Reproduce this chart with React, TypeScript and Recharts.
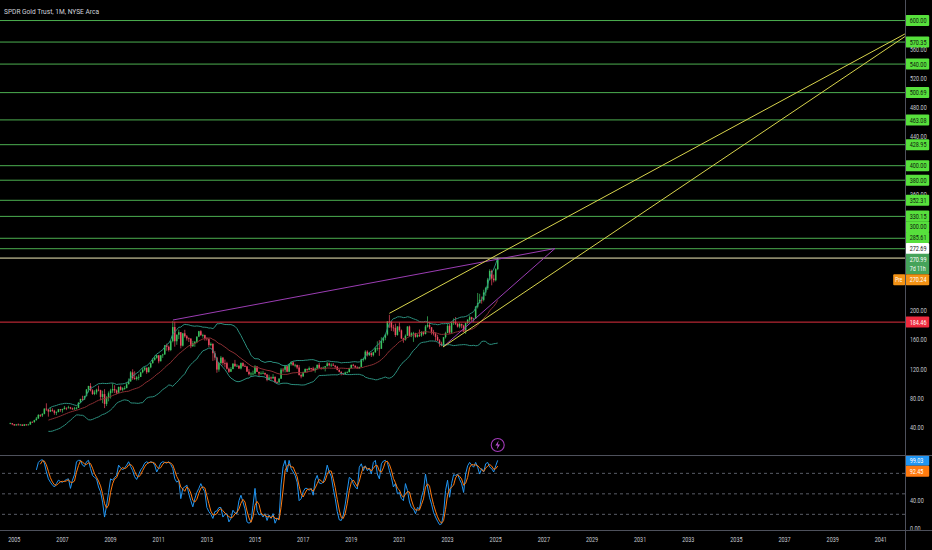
import React from 'react';
import { ComposedChart, Bar, Line, XAxis, YAxis, ReferenceLine, ReferenceDot } from 'recharts';

// ---------- data ----------
const TITLE = 'SPDR Gold Trust, 1M, NYSE Arca';
const FIRST_MONTH_T = 2004 + 10 / 12; // Nov 2004
const FIRST_OPEN = 44.4;

const closes = [
  45.1, 43.8,
  42.2, 43.5, 42.8, 43.4, 41.6, 43.6, 42.8, 43.3, 47.1, 46.8, 49.4, 51.6,
  56.6, 55.9, 58.1, 65.3, 64.3, 61.2, 63.3, 62.4, 59.5, 60.6, 64.4, 63.2,
  64.7, 66.5, 65.9, 67.0, 65.5, 64.3, 65.4, 66.4, 73.5, 78.6, 77.8, 82.5,
  91.7, 96.5, 90.4, 85.4, 87.7, 91.4, 90.6, 81.4, 85.3, 71.7, 80.5, 86.5,
  90.3, 92.3, 90.3, 87.1, 95.0, 91.2, 93.4, 93.6, 98.9, 102.8, 115.3, 107.3,
  106.0, 108.4, 109.0, 115.4, 118.9, 121.7, 115.5, 122.1, 127.9, 132.6, 135.4, 138.7,
  130.5, 138.7, 139.9, 152.4, 150.5, 146.0, 158.3, 177.7, 158.1, 167.0, 170.6, 152.0,
  169.0, 164.9, 162.1, 161.9, 151.3, 155.2, 157.4, 164.5, 171.9, 166.6, 166.6, 162.0,
  161.0, 152.8, 154.5, 141.6, 135.6, 119.1, 128.0, 135.5, 128.2, 127.9, 120.2, 116.1,
  119.7, 127.1, 123.6, 124.3, 120.6, 128.0, 123.9, 123.4, 116.2, 112.7, 113.6, 113.6,
  123.4, 116.0, 113.6, 113.8, 114.5, 112.4, 104.9, 108.3, 106.9, 109.0, 101.9, 101.5,
  106.6, 119.0, 118.8, 123.7, 116.1, 126.5, 129.0, 125.3, 125.6, 121.9, 111.5, 109.6,
  115.4, 119.8, 118.7, 121.1, 120.6, 118.0, 120.5, 125.6, 121.6, 120.7, 121.8, 123.7,
  127.6, 125.0, 125.8, 124.6, 122.9, 118.7, 116.0, 113.6, 112.8, 115.1, 115.5, 121.3,
  125.6, 124.5, 122.0, 121.0, 122.7, 133.2, 133.6, 143.8, 138.9, 141.8, 138.9, 142.9,
  148.4, 148.4, 147.8, 158.8, 162.9, 167.4, 185.4, 184.8, 177.1, 176.5, 166.7, 178.4,
  173.1, 162.0, 160.0, 165.7, 178.4, 165.6, 169.0, 169.0, 164.2, 166.6, 166.1, 171.0,
  168.1, 178.4, 180.6, 177.4, 171.1, 168.5, 164.1, 159.3, 154.7, 151.9, 163.7, 169.6,
  179.4, 170.1, 183.2, 185.0, 182.3, 178.3, 182.0, 179.8, 171.5, 183.1, 187.7, 191.2,
  188.5, 189.3, 205.7, 210.5, 215.3, 215.0, 225.3, 231.3, 243.1, 255.0, 244.4, 242.1,
  257.5, 270.99,
];

const highs = [
  45.9, 45.4,
  43.9, 43.9, 44.8, 43.9, 43.4, 44.1, 43.6, 44.3, 47.4, 47.6, 49.9, 53.8,
  57.6, 57.5, 58.8, 65.6, 72.6, 64.4, 67.1, 65.7, 63.6, 61.5, 64.8, 64.8,
  65.1, 69.0, 66.7, 69.2, 67.7, 66.7, 67.6, 67.8, 74.0, 78.9, 83.0, 83.0,
  92.0, 96.7, 100.4, 91.9, 90.6, 92.7, 96.9, 91.3, 90.0, 92.1, 82.5, 88.9,
  92.6, 100.3, 97.5, 91.7, 95.7, 96.9, 94.8, 96.3, 101.5, 106.8, 117.0, 119.5,
  116.7, 110.3, 112.5, 116.2, 121.4, 122.9, 121.6, 122.9, 128.0, 135.0, 138.4, 139.1,
  139.0, 139.1, 140.9, 153.0, 154.9, 152.2, 159.8, 185.9, 184.9, 167.7, 174.1, 170.6,
  169.7, 173.9, 166.7, 163.3, 161.6, 158.6, 158.4, 164.7, 172.4, 173.4, 168.4, 167.2,
  163.7, 162.3, 156.6, 155.3, 144.8, 136.5, 129.7, 137.9, 136.5, 132.9, 129.8, 121.8,
  122.5, 128.0, 132.4, 126.6, 125.2, 128.9, 129.2, 126.3, 123.6, 119.8, 115.5, 117.6,
  125.2, 123.8, 116.0, 116.6, 117.4, 114.8, 112.6, 111.9, 109.5, 112.8, 109.7, 103.0,
  107.0, 121.1, 121.4, 124.9, 124.5, 126.8, 130.7, 130.5, 127.0, 125.6, 125.2, 113.2,
  116.3, 120.7, 120.5, 123.3, 121.4, 122.9, 121.7, 126.0, 128.3, 122.4, 123.2, 124.0,
  129.5, 128.7, 127.7, 128.1, 125.0, 124.1, 119.5, 116.6, 114.6, 116.2, 116.6, 121.6,
  125.9, 126.9, 124.6, 123.6, 123.0, 134.0, 135.5, 145.7, 145.6, 143.3, 142.9, 143.5,
  149.9, 158.0, 159.7, 163.6, 164.0, 168.1, 185.8, 194.5, 185.9, 180.8, 182.4, 178.9,
  184.0, 174.3, 162.9, 167.5, 178.9, 179.7, 170.4, 171.1, 169.8, 168.3, 174.3, 172.0,
  171.5, 180.5, 192.5, 184.9, 176.2, 173.9, 170.2, 167.0, 161.0, 157.4, 164.0, 171.2,
  182.1, 181.8, 185.4, 189.6, 191.5, 182.9, 183.5, 182.3, 180.9, 184.0, 188.6, 193.8,
  191.9, 190.4, 206.6, 224.6, 223.5, 219.7, 229.1, 233.0, 245.4, 257.3, 256.7, 249.9,
  258.8, 272.7,
];

const lows = [
  44.0, 42.5,
  41.6, 41.8, 42.1, 41.9, 41.3, 41.4, 41.6, 42.5, 43.2, 45.9, 45.8, 48.8,
  51.4, 53.8, 53.8, 57.4, 62.2, 54.2, 60.5, 61.0, 56.8, 56.3, 60.1, 60.9,
  59.8, 64.1, 63.2, 65.5, 64.4, 63.7, 63.9, 64.0, 66.3, 72.5, 76.0, 77.6,
  82.1, 87.6, 89.0, 84.3, 83.8, 84.7, 89.1, 76.7, 72.8, 66.0, 68.8, 75.3,
  79.1, 87.0, 86.8, 85.1, 86.3, 90.1, 89.0, 91.3, 93.2, 98.8, 102.2, 105.0,
  105.0, 104.0, 104.5, 108.8, 114.0, 117.0, 113.2, 115.0, 120.9, 127.4, 131.3, 134.1,
  127.7, 130.5, 135.2, 139.6, 145.0, 143.9, 144.5, 156.6, 150.6, 153.2, 161.1, 148.3,
  150.9, 163.0, 159.0, 157.0, 148.6, 150.3, 150.5, 155.5, 163.8, 165.3, 163.0, 159.0,
  159.0, 150.2, 151.2, 131.0, 131.9, 114.7, 116.1, 126.4, 124.8, 122.0, 119.1, 114.5,
  116.0, 119.8, 123.1, 123.1, 119.8, 119.3, 123.0, 123.0, 116.0, 111.0, 109.0, 111.0,
  112.6, 115.7, 109.7, 112.4, 112.8, 111.0, 103.0, 104.5, 105.0, 106.4, 100.6, 100.2,
  100.8, 106.1, 115.1, 115.1, 115.3, 115.4, 124.5, 124.0, 122.3, 119.7, 111.0, 107.0,
  109.3, 115.2, 115.2, 117.7, 116.2, 117.6, 114.9, 120.2, 121.2, 119.0, 119.4, 116.6,
  123.6, 123.3, 122.7, 124.0, 121.0, 118.0, 115.2, 111.1, 111.6, 111.9, 113.8, 115.3,
  120.5, 123.5, 121.4, 120.5, 119.9, 122.8, 130.1, 132.0, 137.1, 138.0, 136.4, 137.2,
  142.2, 145.1, 138.0, 147.5, 155.8, 159.5, 165.8, 176.6, 172.3, 171.5, 164.1, 165.8,
  171.0, 161.1, 156.1, 158.9, 165.7, 164.6, 163.8, 157.2, 163.0, 163.3, 164.0, 164.2,
  166.0, 167.5, 177.0, 174.7, 167.3, 166.0, 158.7, 158.5, 150.6, 151.2, 151.0, 161.9,
  169.5, 168.3, 168.5, 180.6, 180.4, 177.0, 176.0, 176.0, 171.0, 168.3, 181.7, 184.1,
  185.6, 184.3, 189.4, 203.4, 211.9, 209.9, 213.0, 220.7, 229.0, 241.7, 235.2, 239.2,
  240.6, 256.0,
];

// Stoch RSI %K, monthly, starting Dec 2005
const STOCH_START = 13;
const stochK = [
  85, 96, 99, 100, 95, 82, 72, 67, 63, 60,
  65, 70, 68, 67, 69, 71, 72, 58, 70, 78,
  97, 99, 99, 92, 90, 97, 99, 87, 77, 74,
  72, 60, 53, 38, 16, 33, 52, 72, 70, 74,
  77, 92, 88, 85, 88, 92, 97, 90, 84, 75,
  71, 78, 85, 89, 95, 97, 95, 97, 96, 92,
  82, 88, 95, 97, 96, 95, 97, 93, 87, 72,
  67, 70, 43, 58, 60, 63, 50, 40, 31, 43,
  52, 58, 65, 58, 53, 30, 24, 20, 14, 24,
  25, 30, 30, 16, 20, 21, 9, 14, 26, 22,
  21, 40, 48, 38, 28, 9, 7, 9, 33, 58,
  26, 19, 21, 16, 21, 11, 19, 14, 21, 7,
  14, 14, 63, 90, 99, 82, 99, 87, 82, 77,
  67, 40, 43, 53, 58, 58, 55, 58, 48, 70,
  77, 66, 65, 67, 77, 92, 82, 76, 58, 43,
  24, 12, 11, 19, 35, 55, 74, 72, 65, 60,
  57, 89, 94, 84, 91, 84, 87, 79, 96, 99,
  79, 72, 94, 98, 99, 96, 84, 74, 60, 65,
  50, 52, 43, 40, 65, 55, 38, 30, 28, 21,
  30, 28, 45, 55, 79, 60, 45, 35, 23, 16,
  10, 5, 6, 21, 55, 70, 45, 65, 78, 77,
  79, 71, 65, 52, 79, 91, 96, 92, 89, 96,
  89, 79, 87, 82, 94, 96, 89, 87, 82, 91,
  99.03,
];

const GREEN_LEVELS = [600, 570.35, 540, 500.69, 463.08, 428.95, 400, 380, 352.31, 330.15, 300, 285.61];
const MARK_LEVEL = 272.69;
const SUPPORT_LEVEL = 184.46;
const LAST_PRICE = 270.99;
const PRE_PRICE = 270.24;
const COUNTDOWN = '7d 11h';
const K_LAST = 99.03;
const D_LAST = 92.45;
const STOCH_BANDS = [80, 50, 20];

// price-scale tick labels that are not covered by the right-hand tags
const PRICE_TICKS = [40, 80, 120, 160, 200, 360, 440, 480, 520, 560];
const RSI_TICKS = [0, 40];
const YEAR_TICKS = [2005, 2007, 2009, 2011, 2013, 2015, 2017, 2019, 2021, 2023, 2025, 2027, 2029, 2031, 2033, 2035, 2037, 2039, 2041];

// drawings (data coordinates: [year, price])
const PURPLE_APEX: [number, number] = [2027.46, 285.9];
const LOW_2022: [number, number] = [2022.81, 150.2];
const TREND_LINES: { from: [number, number]; to: [number, number]; kind: 'purple' | 'yellow' }[] = [
  { from: [2011.59, 187.4], to: PURPLE_APEX, kind: 'purple' },
  { from: LOW_2022, to: PURPLE_APEX, kind: 'purple' },
  { from: [2020.583, 196.6], to: [2042.0, 581.5], kind: 'yellow' },
  { from: LOW_2022, to: [2042.0, 577.9], kind: 'yellow' },
];

// ---------- layout / style ----------
const W = 932;
const AXIS_W = 27;
const MAIN_H = 456;
const RSI_TOP = 456;
const RSI_PLOT_H = 74;
const XAXIS_H = 20;
const X_DOMAIN: [number, number] = [2004.406, 2042.004];
const PRICE_DOMAIN: [number, number] = [0, 628.3];
const RSI_DOMAIN: [number, number] = [-2.93, 105.4];

const FONT = 'Roboto, "Liberation Sans", sans-serif';
const AXIS_TEXT = '#c6c9d1';
const UP = '#3cc35f';
const DOWN = '#ef4b62';
const BB_BAND = '#2b8f7e';
const BB_MID = '#8c2f33';
const LEVEL_GREEN = '#4caf50';
const TAG_GREEN = '#57e03c';
const MARK = '#f1ebb8';
const SUPPORT_RED = '#e0303f';
const TAG_RED = '#ee2a3e';
const TREND_YELLOW = '#d8d44c';
const TREND_PURPLE = '#9b3db3';
const LAST_BG = '#45a35a';
const PRE_BG = '#f39214';
const K_BLUE = '#2196f3';
const D_ORANGE = '#ff7a0f';
const DASH = '#6f7380';
const SEP = '#4e515c';
const DARK = '#101510';

// ---------- derived rows ----------
const priceRows = closes.map((c, i) => {
  const open = i === 0 ? FIRST_OPEN : closes[i - 1];
  const high = Math.max(highs[i], open, c);
  const low = Math.min(lows[i], open, c);
  let bbMid: number | null = null;
  let bbUp: number | null = null;
  let bbLo: number | null = null;
  if (i >= 19) {
    const win = closes.slice(i - 19, i + 1);
    const mean = win.reduce((a, b) => a + b, 0) / win.length;
    const sd = Math.sqrt(win.reduce((a, b) => a + (b - mean) * (b - mean), 0) / win.length);
    bbMid = mean;
    bbUp = mean + 2 * sd;
    bbLo = mean - 2 * sd;
  }
  return { t: FIRST_MONTH_T + i / 12, open, close: c, high, low, range: [low, high], bbMid, bbUp, bbLo };
});

const kAt = (i: number) => (i >= STOCH_START ? stochK[i - STOCH_START] : null);
const rsiRows = closes.map((_, i) => {
  const k = kAt(i);
  let d: number | null = null;
  if (i >= STOCH_START + 2) d = ((kAt(i) as number) + (kAt(i - 1) as number) + (kAt(i - 2) as number)) / 3;
  return { t: FIRST_MONTH_T + i / 12, k, d };
});
const LAST_T = priceRows[priceRows.length - 1].t;

// label collision layout (pixel centres inside each pane)
const HALF = 5.4;
const pricePx = (v: number) => MAIN_H * (1 - (v - PRICE_DOMAIN[0]) / (PRICE_DOMAIN[1] - PRICE_DOMAIN[0]));
const rsiPx = (v: number) => RSI_PLOT_H * (RSI_DOMAIN[1] - v) / (RSI_DOMAIN[1] - RSI_DOMAIN[0]);

function layout(values: number[], pinned: number, toPx: (v: number) => number, above: number, below: number) {
  const res: Record<string, number> = {};
  const c0 = toPx(pinned);
  res[String(pinned)] = 0;
  let limit = c0 - above;
  values.filter((v) => v > pinned).sort((a, b) => a - b).forEach((v) => {
    const n = toPx(v);
    const c = Math.min(n, limit - HALF);
    res[String(v)] = c - n;
    limit = c - HALF;
  });
  limit = c0 + below;
  values.filter((v) => v < pinned).sort((a, b) => b - a).forEach((v) => {
    const n = toPx(v);
    const c = Math.max(n, limit + HALF);
    res[String(v)] = c - n;
    limit = c + HALF;
  });
  return res;
}

const priceShift = layout([...GREEN_LEVELS, MARK_LEVEL, PRE_PRICE, SUPPORT_LEVEL], LAST_PRICE, pricePx, 5.5, 15);
const rsiShift = layout([D_LAST], K_LAST, rsiPx, 5.4, 5.4);

const numW = (s: string) => s.split('').reduce((a, ch) => a + (ch === '.' ? 1.5 : 3.05), 0);

// ---------- components ----------
const Candle = (props: any) => {
  const { x, y, width, height, payload } = props;
  if (!payload || x == null || y == null) return null;
  const top = Math.min(y, y + height);
  const h = Math.abs(height);
  const { open, close, high, low } = payload;
  const span = high - low || 1;
  const k = h / span;
  const cx = x + width / 2;
  const yO = top + (high - open) * k;
  const yC = top + (high - close) * k;
  const color = close >= open ? UP : DOWN;
  const bTop = Math.min(yO, yC);
  const bH = Math.max(Math.abs(yC - yO), 0.8);
  return (
    <g>
      <line x1={cx} x2={cx} y1={top} y2={top + h} stroke={color} strokeWidth={0.7} />
      <rect x={cx - 0.75} y={bTop} width={1.5} height={bH} fill={color} />
    </g>
  );
};

const Txt = ({ x, y, s, fill, len, anchor = 'start' }: any) => (
  <text x={x} y={y} fill={fill} fontSize={7.4} fontFamily={FONT} textAnchor={anchor} textLength={len} lengthAdjust="spacingAndGlyphs">
    {s}
  </text>
);

const Tag = (props: any) => {
  const { viewBox, text, bg, fg, shift = 0, kind } = props;
  if (!viewBox) return null;
  const x0 = viewBox.x + viewBox.width + 0.7;
  const cy = viewBox.y + shift;
  const w = 23.5;
  if (kind === 'last') {
    return (
      <g>
        <rect x={x0} y={cy - 5.5} width={w} height={20.5} fill={bg} rx={1} />
        <Txt x={x0 + 4} y={cy + 2.6} s={text} fill={fg} len={numW(text)} />
        <Txt x={x0 + 4} y={cy + 11.8} s={COUNTDOWN} fill={fg} len={16} />
      </g>
    );
  }
  return (
    <g>
      {kind === 'pre' && (
        <g>
          <rect x={x0 - 12.5} y={cy - 5.5} width={12} height={11} fill={bg} rx={1} />
          <Txt x={x0 - 10.5} y={cy + 2.6} s="Pre" fill={fg} len={7} />
        </g>
      )}
      <rect x={x0} y={cy - 5.5} width={w} height={11} fill={bg} rx={1} />
      <Txt x={x0 + 4} y={cy + 2.6} s={text} fill={fg} len={numW(text)} />
    </g>
  );
};

const PriceTick = (p: any) => {
  const s = Number(p.payload.value).toFixed(2);
  return <Txt x={p.x} y={p.y + 2.6} s={s} fill={AXIS_TEXT} len={numW(s)} />;
};

const YearTick = (p: any) => {
  const s = String(p.payload.value);
  return <Txt x={p.x} y={p.y + 6.5} s={s} fill={AXIS_TEXT} len={numW(s)} anchor="middle" />;
};

const Bolt = (p: any) => {
  const cx = p.cx;
  const cy = p.cy - 11;
  if (cx == null) return null;
  const d = `M${cx + 1} ${cy - 4.5} L${cx - 2.3} ${cy + 0.6} L${cx} ${cy + 0.6} L${cx - 1} ${cy + 4.5} L${cx + 2.3} ${cy - 0.6} L${cx} ${cy - 0.6} Z`;
  return (
    <g>
      <circle cx={cx} cy={cy} r={6.5} fill="#000" stroke="#a23bb8" strokeWidth={1.1} />
      <path d={d} fill="#b84fd0" />
    </g>
  );
};

const abs = (top: number, h: number): React.CSSProperties => ({ position: 'absolute', left: 0, top, width: W, height: h });

export default function App() {
  const priceTags = [
    ...GREEN_LEVELS.map((v) => ({ value: v, text: v.toFixed(2), bg: TAG_GREEN, fg: DARK, kind: 'level' })),
    { value: MARK_LEVEL, text: MARK_LEVEL.toFixed(2), bg: '#ffffff', fg: DARK, kind: 'level' },
    { value: LAST_PRICE, text: LAST_PRICE.toFixed(2), bg: LAST_BG, fg: '#ffffff', kind: 'last' },
    { value: PRE_PRICE, text: PRE_PRICE.toFixed(2), bg: PRE_BG, fg: '#ffffff', kind: 'pre' },
    { value: SUPPORT_LEVEL, text: SUPPORT_LEVEL.toFixed(2), bg: TAG_RED, fg: '#ffffff', kind: 'level' },
  ];
  const rsiTags = [
    { value: K_LAST, text: K_LAST.toFixed(2), bg: K_BLUE },
    { value: D_LAST, text: D_LAST.toFixed(2), bg: D_ORANGE },
  ];
  const margin = { top: 0, right: 0, bottom: 0, left: 0 };

  return (
    <div style={{ position: 'absolute', left: 0, top: 0, width: W, height: 550, background: '#000', overflow: 'hidden' }}>
      {/* price pane */}
      <div style={abs(0, MAIN_H)}>
        <ComposedChart width={W} height={MAIN_H} data={priceRows} margin={margin}>
          <XAxis type="number" dataKey="t" domain={X_DOMAIN} hide allowDataOverflow />
          <YAxis
            orientation="right"
            width={AXIS_W}
            domain={PRICE_DOMAIN}
            ticks={PRICE_TICKS}
            allowDataOverflow
            axisLine={false}
            tickLine={false}
            tickSize={3}
            tickMargin={2}
            tick={PriceTick}
          />
          <Line dataKey="bbUp" stroke={BB_BAND} strokeWidth={1} dot={false} isAnimationActive={false} />
          <Line dataKey="bbLo" stroke={BB_BAND} strokeWidth={1} dot={false} isAnimationActive={false} />
          <Line dataKey="bbMid" stroke={BB_MID} strokeWidth={1} dot={false} isAnimationActive={false} />
          <Bar dataKey="range" barSize={2} shape={Candle} isAnimationActive={false} />
          {GREEN_LEVELS.map((v) => (
            <ReferenceLine key={'g' + v} y={v} stroke={LEVEL_GREEN} strokeWidth={1} />
          ))}
          <ReferenceLine y={MARK_LEVEL} stroke={MARK} strokeWidth={1} />
          <ReferenceLine y={SUPPORT_LEVEL} stroke={SUPPORT_RED} strokeWidth={1} />
          {TREND_LINES.map((l, i) => (
            <ReferenceLine
              key={'tl' + i}
              segment={[{ x: l.from[0], y: l.from[1] }, { x: l.to[0], y: l.to[1] }]}
              stroke={l.kind === 'purple' ? TREND_PURPLE : TREND_YELLOW}
              strokeWidth={1}
              ifOverflow="hidden"
            />
          ))}
          <ReferenceDot x={LAST_T} y={0} r={0} ifOverflow="visible" shape={Bolt} />
        </ComposedChart>
      </div>
      {/* price tags overlay */}
      <div style={{ ...abs(0, MAIN_H), pointerEvents: 'none' }}>
        <ComposedChart width={W} height={MAIN_H} data={priceRows} margin={{ ...margin, right: AXIS_W }}>
          <XAxis type="number" dataKey="t" domain={X_DOMAIN} hide allowDataOverflow />
          <YAxis hide domain={PRICE_DOMAIN} allowDataOverflow />
          {priceTags.map((tg) => (
            <ReferenceLine
              key={'tag' + tg.value}
              y={tg.value}
              stroke="#000"
              strokeOpacity={0}
              label={<Tag text={tg.text} bg={tg.bg} fg={tg.fg} kind={tg.kind} shift={priceShift[String(tg.value)] || 0} />}
            />
          ))}
        </ComposedChart>
      </div>

      {/* stoch rsi pane */}
      <div style={abs(RSI_TOP, RSI_PLOT_H + XAXIS_H)}>
        <ComposedChart width={W} height={RSI_PLOT_H + XAXIS_H} data={rsiRows} margin={margin}>
          <XAxis
            type="number"
            dataKey="t"
            domain={X_DOMAIN}
            ticks={YEAR_TICKS}
            allowDataOverflow
            height={XAXIS_H}
            axisLine={false}
            tickLine={false}
            tickSize={3}
            tickMargin={2}
            tick={YearTick}
            interval={0}
          />
          <YAxis
            orientation="right"
            width={AXIS_W}
            domain={RSI_DOMAIN}
            ticks={RSI_TICKS}
            allowDataOverflow
            axisLine={false}
            tickLine={false}
            tickSize={3}
            tickMargin={2}
            tick={PriceTick}
          />
          {STOCH_BANDS.map((v) => (
            <ReferenceLine key={'b' + v} y={v} stroke={DASH} strokeDasharray="3 3" strokeWidth={0.8} />
          ))}
          <Line dataKey="k" stroke={K_BLUE} strokeWidth={1} dot={false} isAnimationActive={false} />
          <Line dataKey="d" stroke={D_ORANGE} strokeWidth={1} dot={false} isAnimationActive={false} />
        </ComposedChart>
      </div>
      <div style={{ ...abs(RSI_TOP, RSI_PLOT_H + XAXIS_H), pointerEvents: 'none' }}>
        <ComposedChart width={W} height={RSI_PLOT_H + XAXIS_H} data={rsiRows} margin={{ ...margin, right: AXIS_W, bottom: XAXIS_H }}>
          <XAxis type="number" dataKey="t" domain={X_DOMAIN} hide allowDataOverflow />
          <YAxis hide domain={RSI_DOMAIN} allowDataOverflow />
          {rsiTags.map((tg) => (
            <ReferenceLine
              key={'rt' + tg.value}
              y={tg.value}
              stroke="#000"
              strokeOpacity={0}
              label={<Tag text={tg.text} bg={tg.bg} fg="#ffffff" kind="level" shift={rsiShift[String(tg.value)] || 0} />}
            />
          ))}
        </ComposedChart>
      </div>

      {/* pane separators and price scale border */}
      <div style={{ position: 'absolute', left: 0, top: 455, width: W, height: 1, background: SEP }} />
      <div style={{ position: 'absolute', left: 0, top: 530, width: W, height: 1, background: SEP }} />
      <div style={{ position: 'absolute', left: 905, top: 0, width: 1, height: 550, background: SEP }} />

      {/* title */}
      <svg width={300} height={20} style={{ position: 'absolute', left: 0, top: 0 }}>
        <text x={4} y={14} fill="#d1d4dc" fontSize={7.2} fontFamily={FONT} textLength={95} lengthAdjust="spacingAndGlyphs">
          {TITLE}
        </text>
      </svg>
    </div>
  );
}
